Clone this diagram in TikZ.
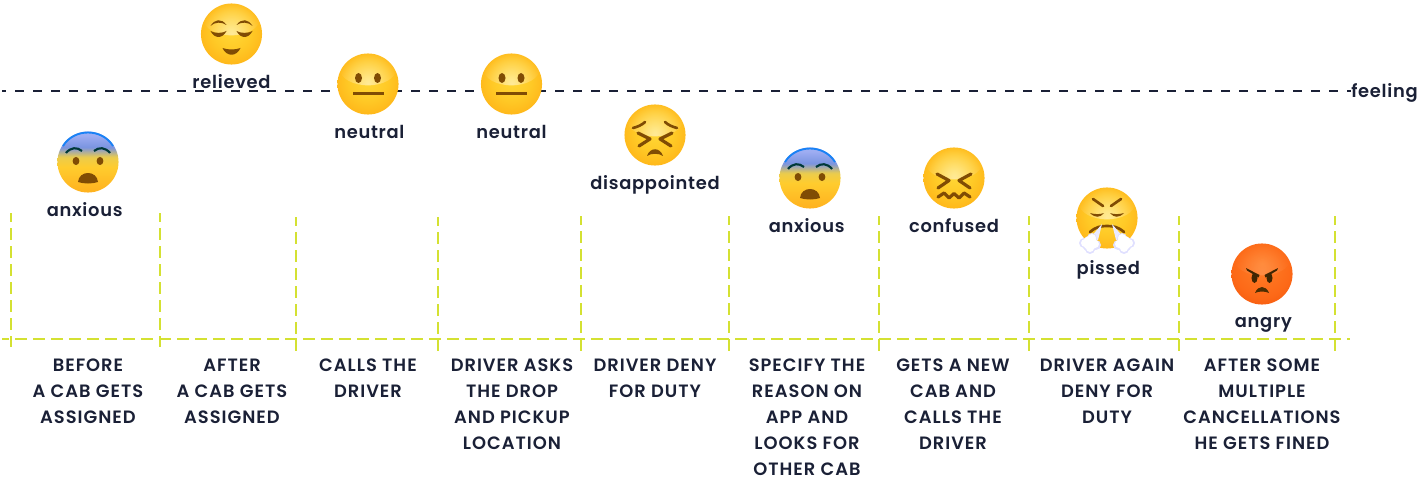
\documentclass[tikz,border=0pt]{standalone}
\usepackage{fontspec}
\usepackage{xcolor}
\setmainfont{Poppins}
\newfontfamily\moodfont[LetterSpace=4]{Poppins SemiBold}
\newfontfamily\stepfont[LetterSpace=5.5]{Poppins SemiBold}
\definecolor{inkblue}{RGB}{26,32,54}
\definecolor{limeline}{RGB}{212,225,50}
\definecolor{browfill}{RGB}{128,76,4}
\definecolor{rimblue}{RGB}{25,130,245}
\usepackage{tikz}
\usetikzlibrary{positioning,fadings}
\tikzfading[name=softglow,inner color=transparent!0,outer color=transparent!100]
\pgfdeclareradialshading{yellowface}{\pgfpoint{0bp}{4bp}}{rgb(0bp)=(1,.85,.22);rgb(16bp)=(1,.79,.15);rgb(30bp)=(1,.7,.09);rgb(42bp)=(.98,.59,.05);rgb(50bp)=(.92,.5,.08)}
\pgfdeclareradialshading{redface}{\pgfpoint{0bp}{9bp}}{rgb(0bp)=(1,.5,.16);rgb(24bp)=(.99,.41,.09);rgb(42bp)=(.93,.29,.02);rgb(50bp)=(.85,.24,0)}
\pgfdeclareverticalshading{fearface}{100bp}{rgb(0bp)=(.93,.53,.06);rgb(18bp)=(1,.66,.1);rgb(46bp)=(1,.8,.18);rgb(54bp)=(.92,.8,.3);rgb(62bp)=(.48,.58,.88);rgb(72bp)=(.62,.68,.95);rgb(84bp)=(.62,.7,.97);rgb(100bp)=(.3,.6,.97)}
\tikzset{
  feelface/.style={circle,minimum size=45.8pt,inner sep=0pt,shading=yellowface,
    path picture={\fill[white,opacity=.5,path fading=softglow]
      ([yshift=11pt]path picture bounding box.center) ellipse (28 and 16);}},
  fearful/.style={circle,minimum size=45.8pt,inner sep=0pt,shading=fearface},
  furious/.style={feelface,shading=redface,
    path picture={\fill[white,opacity=.15,path fading=softglow]
      ([yshift=11pt]path picture bounding box.center) ellipse (28 and 16);}},
  moodlab/.style={text=inkblue,inner sep=0pt,text height=10pt,text depth=3pt,
    font=\moodfont\fontsize{13.4}{16}\selectfont},
  steplab/.style={text=inkblue,inner sep=0pt,align=center,anchor=north,
    font=\stepfont\fontsize{13.4}{19.5}\selectfont},
  feelline/.style={draw=inkblue,line width=1.2pt,dash pattern=on 6.75pt off 6.75pt,dash phase=3.75pt},
  gridline/.style={draw=limeline,line width=2.2pt,dash pattern=on 9pt off 4.5pt,dash phase=3.75pt},
  gridpost/.style={gridline,dash phase=2.25pt},
  browline/.style={draw=browfill,line width=2pt,line cap=round,line join=round},
  pics/marksrelieved/.style={code={
    \foreach \s in {1,-1} {
      \begin{scope}[xscale=\s]
      \fill[browfill] (-21,-3) .. controls (-17,5) and (-9,5) .. (-5,-3) .. controls (-9,-.5) and (-17,-.5) .. cycle;
      \fill[browfill] (-21,-8) .. controls (-17,-15) and (-10,-16) .. (-5,-9) .. controls (-10,-12.5) and (-17,-12) .. cycle;
      \end{scope}}
    \fill[browfill] (-9,14) .. controls (-5,23) and (5,23) .. (9,14) .. controls (4,16) and (-4,16) .. cycle;
  }},
  pics/marksneutral/.style={code={
    \fill[browfill] (-9.5,-6) ellipse (3.5 and 5);
    \fill[browfill] (9.5,-6) ellipse (3.5 and 5);
    \fill[browfill] (-15.5,8.5) rectangle (15.5,11);
  }},
  pics/markspain/.style={code={
    \foreach \s in {1,-1} {
      \begin{scope}[xscale=\s]
      \draw[browline] (-22,-7) .. controls (-18,-8) and (-13,-10) .. (-10,-13);
      \draw[browline,line width=2.4pt] (-17,-2) -- (-5,4) -- (-16,11);
      \end{scope}}
    \fill[browfill] (-8,21) .. controls (-5,12) and (5,12) .. (8,21) .. controls (4,18) and (-4,18) .. cycle;
  }},
  pics/marksfear/.style={code={
    \draw[draw=rimblue,line width=1.4pt] (-25,-16) .. controls (-14,-34) and (14,-34) .. (25,-16);
    \foreach \s in {1,-1} {
      \begin{scope}[xscale=\s]
      \draw[draw=black!55!teal,line width=1.6pt] (-22,-9) .. controls (-17,-15) and (-11,-15) .. (-6,-11);
      \fill[browfill] (-12,-1) ellipse (3.4 and 4);
      \end{scope}}
    \fill[browfill] (-10,20) .. controls (-9,8) and (9,8) .. (10,20) .. controls (4,22) and (-4,22) .. cycle;
  }},
  pics/marksconfused/.style={code={
    \foreach \s in {1,-1} {
      \begin{scope}[xscale=\s]
      \draw[browline,line width=2.4pt] (-17,-4) -- (-5,2.5) -- (-16,10);
      \end{scope}}
    \draw[browline,line width=2.4pt] (-16,19) -- (-10,15) -- (-5,20) -- (0,15.5) -- (5,20) -- (10,15) -- (16,19);
  }},
  pics/markssteam/.style={code={
    \foreach \s in {1,-1} {
      \begin{scope}[xscale=\s]
      \draw[browline] (-14,-19) -- (-4,-12);
      \fill[browfill] (-17,-5) .. controls (-12,0) and (-7,0) .. (-3,-5) .. controls (-7,-3.5) and (-12,-3.5) .. cycle;
      \end{scope}}
    \draw[browline] (-17,14) .. controls (-11,9) and (-7,8) .. (0,8) .. controls (7,8) and (11,9) .. (17,14);
    \foreach \s in {1,-1} {
      \begin{scope}[xscale=\s]
      \fill[white!92!blue] (-5,6) -- (-9,22) -- (-17,20) -- cycle;
      \foreach \cx/\cy/\cr in {-17/26/8,-23/25/5,-11/27/5,-15/20/5,-17/31/5} {
        \fill[blue!12!white] (\cx,\cy) circle (\cr);
      }
      \foreach \cx/\cy/\cr in {-17/25/7,-22/25/4,-12/26/4,-15/20/4,-17/30/4} {
        \fill[white] (\cx,\cy) circle (\cr);
      }
      \end{scope}}
  }},
  pics/marksangry/.style={code={
    \foreach \s in {1,-1} {
      \begin{scope}[xscale=\s]
      \fill[black!50!browfill] (-16,-6) -- (-2.5,1) -- (-3.5,3.5) -- (-15,-3.5) -- cycle;
      \fill[black!50!browfill] (-7.5,4) ellipse (3 and 5);
      \end{scope}}
    \fill[black!40!browfill] (-7,19) .. controls (-4,11) and (4,11) .. (7,19) .. controls (3,17) and (-3,17) .. cycle;
  }},
}

\begin{document}
\begin{tikzpicture}[x=0.75pt,y=-0.75pt]
  \useasboundingbox (0,0) rectangle (1419,481);

  % dashed axes first, the faces and words sit over them
  \coordinate (feelstart) at (2,91);
  \node (feelword) [moodlab,anchor=west] at (1351,93) {feeling};
  \draw[feelline] (feelstart) -- (feelword.west |- feelstart);

  \coordinate (gridstart) at (2,339);
  \coordinate (gridend) at (1350,339);
  \draw[gridline] (gridstart) -- (gridend);
  \foreach \n/\gx/\gy/\gb in {0/11/213/347,1/160/213/347,2/296/217/351,3/438/217/351,4/581/216/351,
                              5/729/216/351,6/879/216/351,7/1029/216/351,8/1179/216/351,9/1335/216/351} {
    \coordinate (top\n) at (\gx,\gy);
    \coordinate (bot\n) at (\gx,\gb);
    \draw[gridpost] (top\n) -- (bot\n);
  }

  % faces
  \node (anx)   [fearful]  at (88,162)    {};
  \node (rel)   [feelface] at (231.5,34)  {};
  \node (neuta) [feelface] at (368,84)    {};
  \node (neutb) [feelface] at (511.5,84)  {};
  \node (dis)   [feelface] at (655,135)   {};
  \node (anxb)  [fearful]  at (810,178)   {};
  \node (conf)  [feelface] at (954,178)   {};
  \node (piss)  [feelface] at (1107,218)  {};
  \node (ang)   [furious]  at (1262,274)  {};

  \pic at (anx)   {marksfear};
  \pic at (rel)   {marksrelieved};
  \pic at (neuta) {marksneutral};
  \pic at (neutb) {marksneutral};
  \pic at (dis)   {markspain};
  \pic at (anxb)  {marksfear};
  \pic at (conf)  {marksconfused};
  \pic at (piss)  {markssteam};
  \pic at (ang)   {marksangry};

  % words under the faces
  \node (anxlab)   [moodlab,below=7.5pt of anx,xshift=-2.5pt]  {anxious};
  \node (rellab)   [moodlab,below=7.5pt of rel]                {relieved};
  \node (neutalab) [moodlab,below=7.5pt of neuta,xshift=1pt]   {neutral};
  \node (neutblab) [moodlab,below=7.5pt of neutb]              {neutral};
  \node (dislab)   [moodlab,below=7.5pt of dis]                {disappointed};
  \node (anxblab)  [moodlab,below=7.5pt of anxb,xshift=-2.5pt] {anxious};
  \node (conflab)  [moodlab,below=7.5pt of conf]               {confused};
  \node (pisslab)  [moodlab,below=9pt of piss,xshift=1pt]      {pissed};
  \node (anglab)   [moodlab,below=7pt of ang,xshift=1pt]       {angry};

  % steps along the bottom
  \node (stepa) [steplab] at (88,358.5)   {BEFORE\\A CAB GETS\\ASSIGNED};
  \node (stepb) [steplab] at (232,358.5)  {AFTER\\A CAB GETS\\ASSIGNED};
  \node (stepc) [steplab] at (368,358.5)  {CALLS THE\\DRIVER};
  \node (stepd) [steplab] at (512,358.5)  {DRIVER ASKS\\THE DROP\\AND PICKUP\\LOCATION};
  \node (stepe) [steplab] at (655,358.5)  {DRIVER DENY\\FOR DUTY};
  \node (stepf) [steplab] at (807,358.5)  {SPECIFY THE\\REASON ON\\APP AND\\LOOKS FOR\\OTHER CAB};
  \node (stepg) [steplab] at (953,358.5)  {GETS A NEW\\CAB AND\\CALLS THE\\DRIVER};
  \node (steph) [steplab] at (1107,358.5) {DRIVER AGAIN\\DENY FOR\\DUTY};
  \node (stepi) [steplab] at (1262,358.5) {AFTER SOME\\MULTIPLE\\CANCELLATIONS\\HE GETS FINED};
\end{tikzpicture}
\end{document}
